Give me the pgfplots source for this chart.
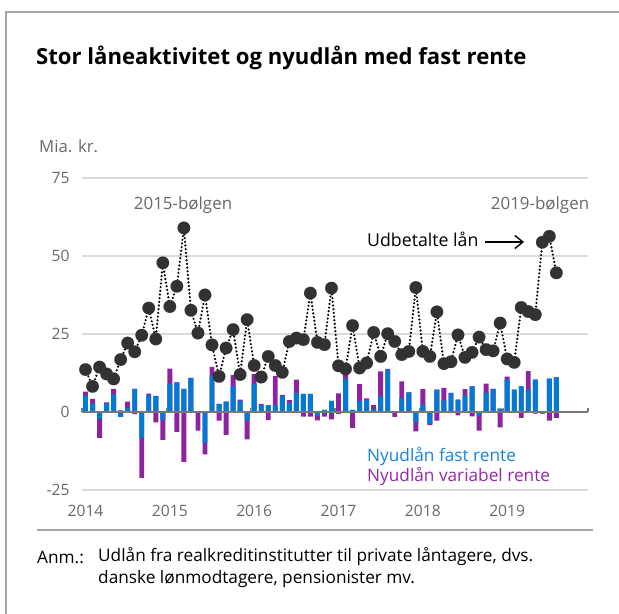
\documentclass[border=0pt]{standalone}
\usepackage{fontspec}
\setmainfont{Open Sans}
\usepackage{pgfplots}
\usepackage{pgfplotstable}
\pgfplotsset{compat=1.18}
\usetikzlibrary{arrows.meta}

\definecolor{fastblue}{RGB}{0,122,212}
\definecolor{varpurple}{RGB}{142,35,160}
\definecolor{dotgray}{RGB}{50,50,50}
\definecolor{gridgray}{RGB}{218,218,218}
\definecolor{txtgray}{RGB}{105,105,105}
\definecolor{zerogray}{RGB}{120,120,120}
\definecolor{legblue}{RGB}{20,132,222}
\definecolor{legpurple}{RGB}{150,40,170}
\definecolor{framegray}{RGB}{165,165,165}

\pgfplotstableread{
i udb fast var
0 13.6 5.3 1.2
1 8.2 2.7 1.5
2 14.4 -2.2 -6.1
3 12.2 2.7 0.4
4 10.6 5.6 1.8
5 16.8 -1.6 0.5
6 22.1 1.3 2.0
7 19.3 7.4 -0.7
8 24.6 -8.3 -12.8
9 33.3 5.3 0.6
10 23.4 5.2 -3.3
11 47.8 -2.6 -6.3
12 33.8 9.0 4.9
13 40.3 9.5 -6.4
14 59.0 7.4 -16.0
15 32.6 10.9 0
16 25.3 0.3 -6.0
17 37.5 -9.9 -3.7
18 21.5 11.6 2.9
19 11.4 2.6 -2.8
20 20.5 3.3 -7.3
21 26.4 8.3 3.5
22 12.0 3.5 0.5
23 29.6 -2.8 -6.0
24 14.9 9.0 3.2
25 11.2 2.2 0.4
26 17.8 2.2 -2.5
27 14.9 2.2 9.3
28 12.7 5.0 0.5
29 22.6 2.9 0.9
30 23.7 6.1 4.3
31 23.2 5.8 -1.5
32 38.1 5.8 -1.5
33 22.3 -1.3 -1.4
34 21.6 0.7 -1.5
35 39.7 3.6 -2.4
36 14.8 -0.6 6.0
37 13.8 10.6 1.4
38 27.7 0.7 -5.1
39 14.1 3.6 5.3
40 15.7 4.0 0.4
41 25.5 1.0 1.2
42 17.8 5.0 8.0
43 25.1 13.6 0.2
44 22.6 -0.4 -1.2
45 18.4 4.5 5.3
46 19.4 6.3 0
47 39.9 -3.2 -3.0
48 19.4 2.4 4.9
49 17.8 -3.8 -0.4
50 32.1 7.2 -2.8
51 15.5 3.7 4.0
52 16.1 6.1 -0.4
53 24.7 4.0 -1.1
54 17.5 5.3 2.0
55 19.1 8.2 -1.4
56 24.0 -1.2 -4.8
57 20.0 6.1 3.0
58 19.6 7.4 -0.3
59 28.5 1.1 -4.9
60 17.0 10.4 0.9
61 15.9 7.2 -0.3
62 33.5 8.2 -1.9
63 32.2 7.2 5.9
64 31.2 10.4 -0.5
65 54.4 -0.5 0
66 56.3 10.7 -2.8
67 44.6 11.1 -1.9
}\data

\begin{document}
\begin{tikzpicture}[x=1bp,y=1bp]
\useasboundingbox (0,0) rectangle (619,614);
% frame
\draw[framegray, line width=2bp] (6,0) -- (6,602) -- (619,602);
% title
\node[anchor=base west, inner sep=0pt, font=\fontsize{22.2}{25}\selectfont\bfseries] at (36,549) {Stor låneaktivitet og nyudlån med fast rente};
\node[anchor=west, inner sep=0pt, text=txtgray, font=\fontsize{16.8}{19}\selectfont] at (39,468) {Mia. kr.};

\begin{axis}[
  scale only axis, width=506bp, height=312bp,
  at={(82bp,124bp)}, anchor=south west,
  xmin=-0.5, xmax=71.5, ymin=-25, ymax=75,
  axis line style={draw=none}, major tick length=0pt,
  ytick={-25,0,25,50,75},
  ymajorgrids, grid style={gridgray, line width=1.2bp},
  xtick={0,12,24,36,48,60},
  xticklabels={2014,2015,2016,2017,2018,2019},
  /pgf/number format/assume math mode=true,
  ticklabel style={text=txtgray, font=\fontsize{15.7}{18}\selectfont},
  yticklabel style={xshift=-9bp},
  xticklabel style={yshift=-12bp},
  clip=false,
]
\addplot[ybar, bar width=0.7, bar shift=0pt, fill=varpurple, draw=none]
  table[x=i, y expr={max(\thisrow{fast},0)+max(\thisrow{var},0)}] {\data};
\addplot[ybar, bar width=0.7, bar shift=0pt, fill=varpurple, draw=none]
  table[x=i, y expr={min(\thisrow{fast},0)+min(\thisrow{var},0)}] {\data};
\addplot[ybar, bar width=0.7, bar shift=0pt, fill=fastblue, draw=none]
  table[x=i, y expr={max(\thisrow{fast},0)}] {\data};
\addplot[ybar, bar width=0.7, bar shift=0pt, fill=fastblue, draw=none]
  table[x=i, y expr={min(\thisrow{fast},0)}] {\data};
\draw[zerogray, line width=1.5bp] (axis cs:-0.5,0) -- (axis cs:71.5,0);
\pgfplotsinvokeforeach{-0.5,11.5,23.5,35.5,47.5,59.5,71.5}{
  \draw[zerogray, line width=1.2bp] (axis cs:#1,0) -- ([yshift=4bp]axis cs:#1,0);
}
\addplot[black, line width=2.4bp, line cap=round, dash pattern=on 0bp off 3.7bp,
  mark=*, mark size=6.3bp, mark options={solid, fill=dotgray, draw=dotgray, line width=0.1bp}]
  table[x=i, y=udb] {\data};
\end{axis}

% annotations
\node[text=txtgray, inner sep=0pt, font=\fontsize{17}{19}\selectfont] at (183,409) {2015-bølgen};
\node[text=txtgray, inner sep=0pt, font=\fontsize{17}{19}\selectfont] at (540,409) {2019-bølgen};
\node[anchor=base west, inner sep=0pt, font=\fontsize{17.8}{20}\selectfont] at (367,367) {Udbetalte lån};
\draw[-{Straight Barb[length=8bp,width=13bp]}, line width=1.4bp] (485,372) -- (524,372);
\node[anchor=west, inner sep=0pt, text=legblue, font=\fontsize{17.3}{19}\selectfont] at (367,157) {Nyudlån fast rente};
\node[anchor=west, inner sep=0pt, text=legpurple, font=\fontsize{17.3}{19}\selectfont] at (367,137) {Nyudlån variabel rente};

% note
\draw[framegray, line width=2bp] (37,84) -- (593,84);
\node[anchor=west, inner sep=0pt, font=\fontsize{17.3}{19}\selectfont] at (37,57) {Anm.:};
\node[anchor=west, inner sep=0pt, font=\fontsize{17.3}{19}\selectfont] at (98,57) {Udlån fra realkreditinstitutter til private låntagere, dvs.};
\node[anchor=west, inner sep=0pt, font=\fontsize{17.3}{19}\selectfont] at (98,35) {danske lønmodtagere, pensionister mv.};
\end{tikzpicture}
\end{document}
